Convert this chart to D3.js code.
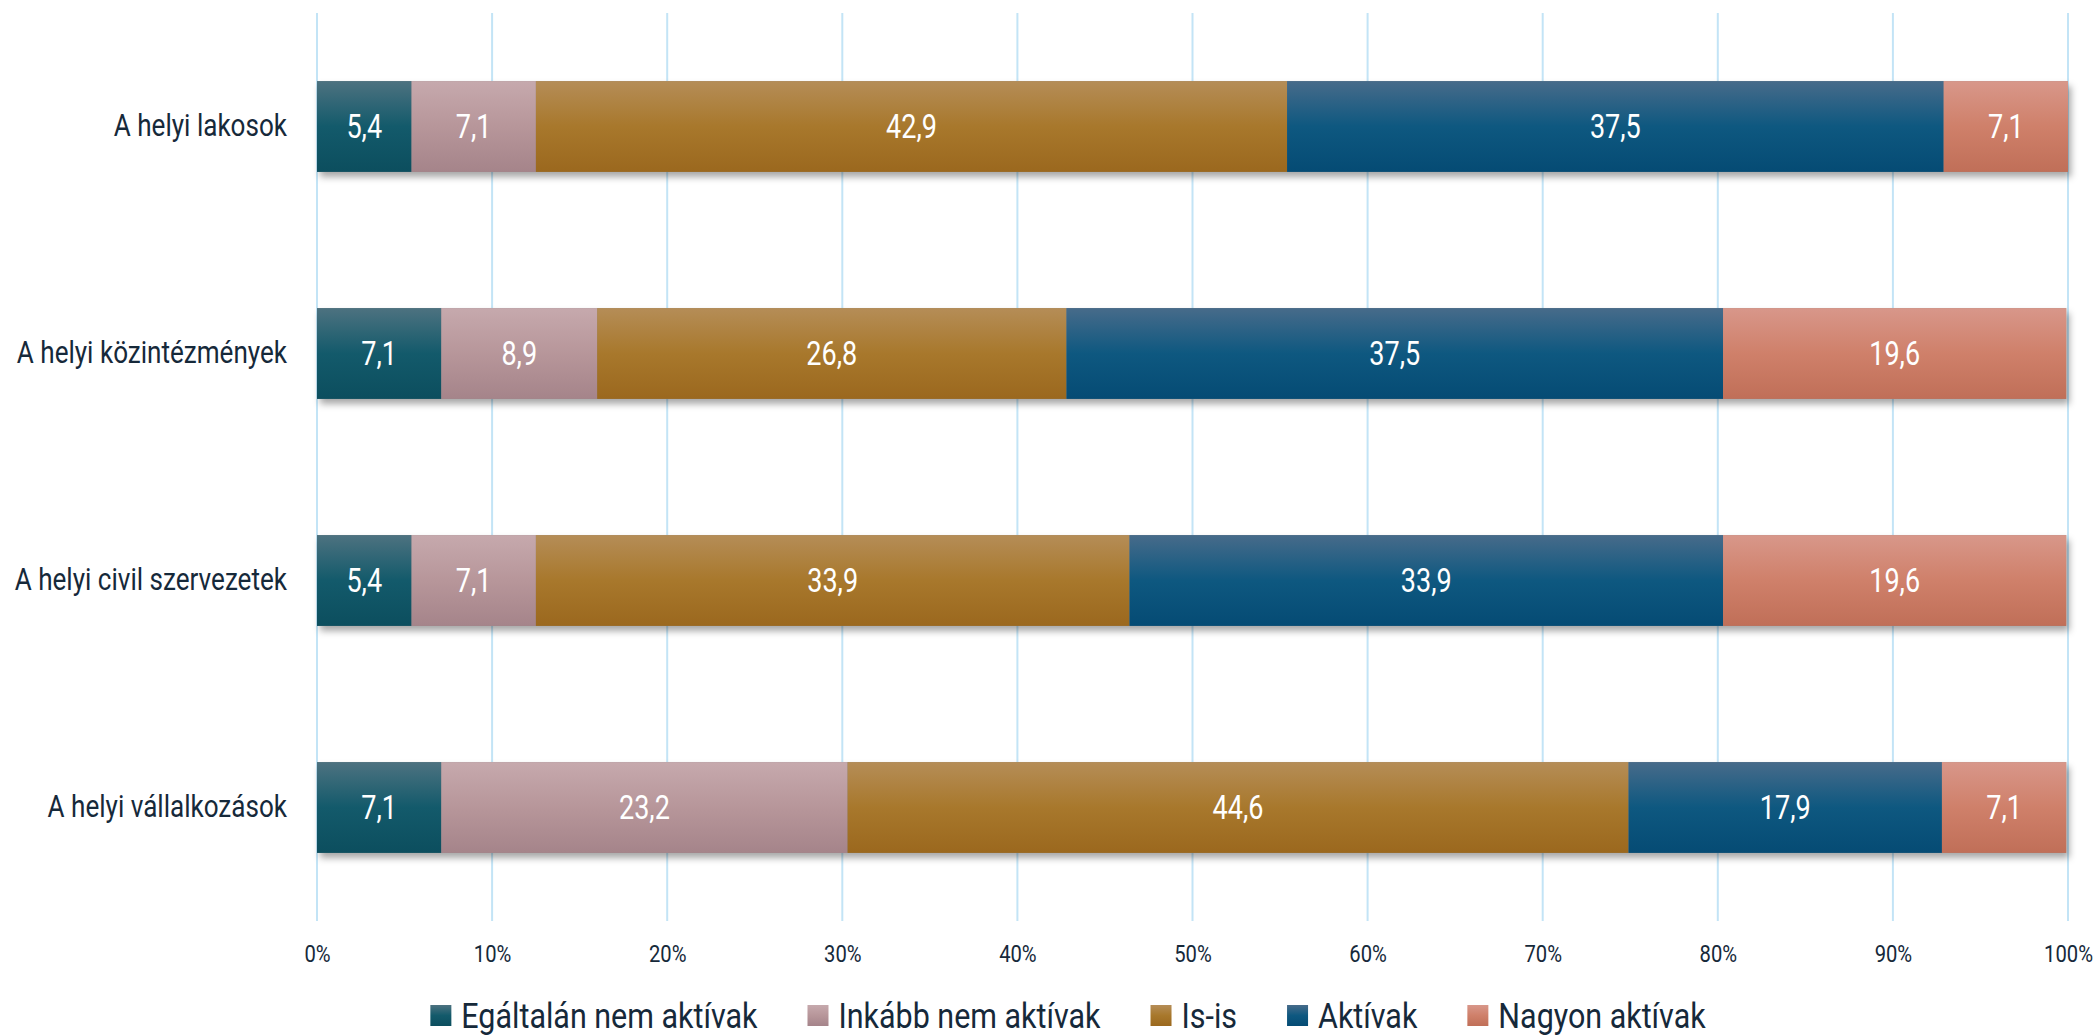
<!DOCTYPE html>
<html>
<head>
<meta charset="utf-8">
<script src="https://cdn.jsdelivr.net/npm/d3@7"></script>
<style>
  body { margin: 0; background: #fff; }
  svg { display: block; }
  .lbl { font-family: "Roboto", sans-serif; fill: #16293a; font-weight: 400; }
  .val { font-family: "Roboto", sans-serif; fill: #fff; font-weight: 400; }
</style>
</head>
<body>
<div id="chart"></div>
<script>
// categories (top to bottom)
var categories = ["A helyi lakosok", "A helyi közintézmények", "A helyi civil szervezetek", "A helyi vállalkozások"];
var seriesNames = ["Egáltalán nem aktívak", "Inkább nem aktívak", "Is-is", "Aktívak", "Nagyon aktívak"];
var egaltalan = [5.4, 7.1, 5.4, 7.1];
var inkabb    = [7.1, 8.9, 7.1, 23.2];
var isis      = [42.9, 26.8, 33.9, 44.6];
var aktivak   = [37.5, 37.5, 33.9, 17.9];
var nagyon    = [7.1, 19.6, 19.6, 7.1];
var tickValues = [0, 10, 20, 30, 40, 50, 60, 70, 80, 90, 100];

// colours: [top, middle, bottom] of the bar gradient
var colors = [
  ["#4d7280", "#135a6b", "#0c4e5e"],
  ["#c6a9ad", "#b7969a", "#a5848a"],
  ["#b58d57", "#a8782c", "#9b681e"],
  ["#476b8a", "#0e5880", "#054b74"],
  ["#d8978a", "#cf806a", "#c06f58"]
];

var seriesValues = [egaltalan, inkabb, isis, aktivak, nagyon];
var data = categories.map(function(c, i) {
  var row = {cat: c};
  seriesNames.forEach(function(s, j) { row[s] = seriesValues[j][i]; });
  return row;
});

// no condensed font installed, so squeeze Roboto horizontally
var squeezeVal = 0.82, squeezeCat = 0.855, squeezeTick = 0.86, squeezeLeg = 0.87;

var W = 2096, H = 1035,
    margin = {top: 13, right: 28, bottom: 114, left: 317},
    width = W - margin.left - margin.right,
    height = H - margin.top - margin.bottom;

var svg = d3.select("#chart").append("svg")
    .attr("width", W)
    .attr("height", H);

var defs = svg.append("defs");
colors.forEach(function(c, i) {
  var g = defs.append("linearGradient")
      .attr("id", "grad" + i)
      .attr("x1", 0).attr("y1", 0).attr("x2", 0).attr("y2", 1);
  g.append("stop").attr("offset", "0%").attr("stop-color", c[0]);
  g.append("stop").attr("offset", "50%").attr("stop-color", c[1]);
  g.append("stop").attr("offset", "100%").attr("stop-color", c[2]);
});
var shadow = defs.append("filter").attr("id", "shadow")
    .attr("x", "-5%").attr("y", "-20%").attr("width", "110%").attr("height", "150%");
shadow.append("feDropShadow")
    .attr("dx", 3).attr("dy", 5).attr("stdDeviation", 3.5)
    .attr("flood-color", "#000").attr("flood-opacity", 0.35);

var g = svg.append("g")
    .attr("transform", "translate(" + margin.left + "," + margin.top + ")");

var x = d3.scaleLinear().domain([0, 100]).range([0, width]);
var y = d3.scaleBand().domain(categories).range([0, height])
    .paddingInner(0.6).paddingOuter(0.3);

// gridlines
g.selectAll(".grid")
    .data(tickValues)
    .enter().append("line")
    .attr("class", "grid")
    .attr("x1", function(d) { return x(d); })
    .attr("x2", function(d) { return x(d); })
    .attr("y1", 0)
    .attr("y2", height)
    .attr("stroke", "#c3e4f6")
    .attr("stroke-width", 2);

var stack = d3.stack().keys(seriesNames);
var layers = stack(data);

// one shadow per bar
g.selectAll(".barshadow")
    .data(data)
    .enter().append("rect")
    .attr("class", "barshadow")
    .attr("x", x(0))
    .attr("y", function(d) { return y(d.cat); })
    .attr("width", function(d) {
      return x(d3.sum(seriesNames, function(s) { return d[s]; })) - x(0);
    })
    .attr("height", y.bandwidth())
    .attr("fill", "#888")
    .attr("filter", "url(#shadow)");

var layer = g.selectAll(".layer")
    .data(layers)
    .enter().append("g")
    .attr("class", "layer")
    .attr("fill", function(d, i) { return "url(#grad" + i + ")"; });

layer.selectAll("rect")
    .data(function(d) { return d; })
    .enter().append("rect")
    .attr("x", function(d) { return x(d[0]); })
    .attr("y", function(d) { return y(d.data.cat); })
    .attr("width", function(d) { return x(d[1]) - x(d[0]); })
    .attr("height", y.bandwidth());

var fmt = function(v) { return d3.format(".1f")(v).replace(".", ","); };
layer.selectAll("text")
    .data(function(d) { return d; })
    .enter().append("text")
    .attr("class", "val")
    .attr("transform", function(d) {
      return "translate(" + (x(d[0]) + x(d[1])) / 2 + "," + (y(d.data.cat) + y.bandwidth() / 2) + ") scale(" + squeezeVal + ",1)";
    })
    .attr("dy", "0.36em")
    .attr("text-anchor", "middle")
    .style("font-size", "33px")
    .text(function(d) { return fmt(d[1] - d[0]); });

// y axis (category labels)
var yAxis = g.append("g")
    .call(d3.axisLeft(y).tickSize(0).tickPadding(30));
yAxis.select(".domain").remove();
yAxis.selectAll("text")
    .attr("class", "lbl")
    .attr("x", -30 / squeezeCat)
    .attr("transform", "scale(" + squeezeCat + ",1)")
    .style("font-size", "30.5px");

// x axis (percent labels)
var xAxis = g.append("g")
    .attr("transform", "translate(0," + height + ")")
    .call(d3.axisBottom(x).tickValues(tickValues)
      .tickFormat(function(d) { return d + "%"; })
      .tickSize(0).tickPadding(24));
xAxis.select(".domain").remove();
xAxis.selectAll("text")
    .attr("class", "lbl")
    .attr("transform", "scale(" + squeezeTick + ",1)")
    .style("font-size", "23.5px");

// legend
var legend = svg.append("g").attr("class", "legend");
var items = legend.selectAll("g")
    .data(seriesNames)
    .enter().append("g");
items.append("rect")
    .attr("width", 21).attr("height", 21)
    .attr("y", -10.5)
    .attr("fill", function(d, i) { return "url(#grad" + i + ")"; });
items.append("text")
    .attr("class", "lbl")
    .attr("transform", "translate(31,0) scale(" + squeezeLeg + ",1)")
    .attr("dy", "0.35em")
    .style("font-size", "35px")
    .text(function(d) { return d; });
var pos = 0;
items.each(function() {
  var w = this.querySelector("text").getComputedTextLength() * squeezeLeg;
  d3.select(this).attr("transform", "translate(" + pos + ",0)");
  pos += 31 + w + 50;
});
pos -= 50;
legend.attr("transform", "translate(" + (1068 - pos / 2) + ",1015.5)");
</script>
</body>
</html>
